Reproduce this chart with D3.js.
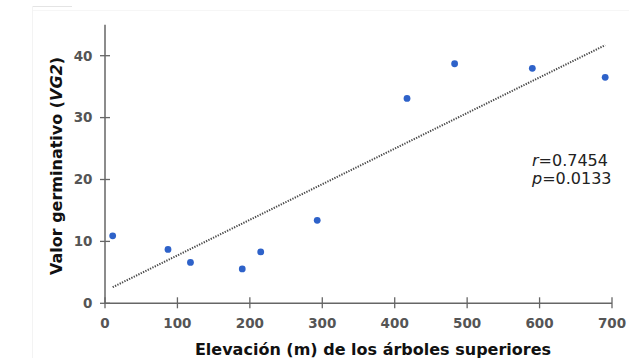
<!DOCTYPE html>
<html><head><meta charset="utf-8">
<script src="https://cdn.jsdelivr.net/npm/d3@7"></script>
<style>body{margin:0;background:#fff}svg{display:block}</style>
</head><body>
<svg id="c" width="629" height="358"></svg>
<script>
const elevation = [10.6, 87, 118, 189.5, 215, 293, 417, 482.7, 590, 690.6];
const vg2 = [10.9, 8.7, 6.6, 5.55, 8.3, 13.4, 33.1, 38.7, 37.96, 36.5];
const xTicks = [0, 100, 200, 300, 400, 500, 600, 700];
const yTicks = [0, 10, 20, 30, 40];
const trendX = [10.6, 690.6];
const trendY = [2.6, 41.7];
const stats = [["r", "=0.7454"], ["p", "=0.0133"]];

const svg = d3.select("#c");
// faint frame artifacts
svg.append("line").attr("x1",33).attr("x2",72).attr("y1",6.5).attr("y2",6.5).attr("stroke","#e4e4e4");
svg.append("line").attr("x1",33).attr("x2",629).attr("y1",10.5).attr("y2",10.5).attr("stroke","#f6f6f6");
svg.append("line").attr("x1",32.5).attr("x2",32.5).attr("y1",6).attr("y2",358).attr("stroke","#f3f3f3");

const x = d3.scaleLinear().domain([0,700]).range([105,612]);
const y = d3.scaleLinear().domain([0,40]).range([303.3,55.7]);
const axisCol = "#666";

svg.append("line").attr("x1",105).attr("x2",105).attr("y1",y(45)).attr("y2",y(0)).attr("stroke",axisCol).attr("stroke-width",1.5);
svg.append("line").attr("x1",105).attr("x2",612).attr("y1",y(0)).attr("y2",y(0)).attr("stroke",axisCol).attr("stroke-width",1.5);
const fontT = "'DejaVu Sans', Verdana, sans-serif";
yTicks.forEach(t=>{
  svg.append("line").attr("x1",100).attr("x2",110).attr("y1",y(t)).attr("y2",y(t)).attr("stroke",axisCol).attr("stroke-width",1.3);
  svg.append("text").attr("x",92.5).attr("y",y(t)).attr("dy","0.36em").attr("text-anchor","end")
    .attr("font-family",fontT).attr("font-weight","bold").attr("font-size",13.5).attr("fill","#555").text(t);
});
xTicks.forEach(t=>{
  svg.append("line").attr("x1",x(t)).attr("x2",x(t)).attr("y1",y(0)-6).attr("y2",y(0)+5).attr("stroke",axisCol).attr("stroke-width",1.3);
  svg.append("text").attr("x",x(t)).attr("y",327.5).attr("text-anchor","middle")
    .attr("font-family",fontT).attr("font-weight","bold").attr("font-size",13.5).attr("fill","#555").text(t);
});

svg.append("line").attr("x1",x(trendX[0])).attr("y1",y(trendY[0])).attr("x2",x(trendX[1])).attr("y2",y(trendY[1]))
  .attr("stroke","#4a4a4a").attr("stroke-width",2).attr("stroke-dasharray","1.3,1.3");

svg.selectAll("circle.pt").data(elevation.map((e,i)=>[e,vg2[i]])).enter().append("circle")
  .attr("cx",d=>x(d[0])).attr("cy",d=>y(d[1])).attr("r",3.4).attr("fill","#2e62c9");

stats.forEach((s,i)=>{
  const t = svg.append("text").attr("x",532).attr("y",165.5+i*18.5).attr("font-family",fontT).attr("font-size",16).attr("fill","#222");
  t.append("tspan").attr("font-style","italic").text(s[0]);
  t.append("tspan").text(s[1]);
});

svg.append("text").attr("x",373).attr("y",355).attr("text-anchor","middle")
  .attr("font-family",fontT).attr("font-weight","bold").attr("font-size",16).attr("fill","#111")
  .text("Elevación (m) de los árboles superiores");
const yl = svg.append("text").attr("transform","translate(62,166) rotate(-90)").attr("text-anchor","middle")
  .attr("font-family",fontT).attr("font-weight","bold").attr("font-size",16).attr("fill","#111");
yl.append("tspan").text("Valor germinativo (");
yl.append("tspan").attr("font-style","italic").text("VG2");
yl.append("tspan").text(")");
</script>
</body></html>
